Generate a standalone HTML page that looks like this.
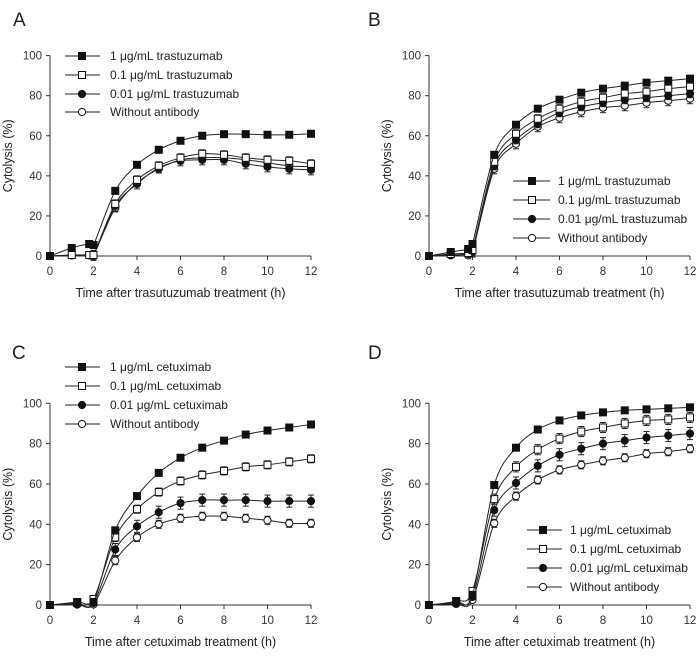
<!DOCTYPE html>
<html><head><meta charset="utf-8"><style>
body{margin:0;background:#fff;}
svg{display:block;font-family:"Liberation Sans",sans-serif;}
</style></head><body>
<svg id="fig" width="697" height="660" viewBox="0 0 697 660"></svg>
<script>
const timesAB=[0,1,1.8,2,3,4,5,6,7,8,9,10,11,12];
const timesCD=[0,1.25,2,3,4,5,6,7,8,9,10,11,12];
const xTicks=[0,2,4,6,8,10,12];
const yTicks=[0,20,40,60,80,100];
const labelsTras=["1 μg/mL trastuzumab","0.1 μg/mL trastuzumab","0.01 μg/mL trastuzumab","Without antibody"];
const labelsCet=["1 μg/mL cetuximab","0.1 μg/mL cetuximab","0.01 μg/mL cetuximab","Without antibody"];
const markerTypes=["sq-fill","sq-open","ci-fill","ci-open"];
const A1=[0,4,6,5.5,32.5,45.5,53,57.5,60,60.8,60.8,60.5,60.5,61];
const A2=[0,0.5,0.5,0.5,26,38,45,49,51,50.5,49,48,47.5,46];
const A3=[0,0.3,0.3,0.3,25,36,44,47.5,48,48,46,44.5,43.5,43];
const A4=[0,0.3,0.3,0.3,24,36.5,43.5,48,49,49,48,46.5,45,44.5];
const B1=[0,2,3.5,6,50.5,65.5,73.5,78,81.5,83.5,85,86.5,87.5,88.5];
const B2=[0,1,1.5,3,47,61,68.5,73.5,77,79,81,82,83.5,84.5];
const B3=[0,0.5,1,2.5,45,58,66,71.5,74.5,76.5,78,79,80,81];
const B4=[0,0.3,0.3,2,43.5,56,64.5,69,72,74,75,76.5,77.5,78.5];
const C1=[0,1,1.5,37,54,65.5,73,78,81.5,84.5,86.5,88,89.5];
const C2=[0,1.5,3,33.5,47.5,56,61.5,64.5,66.5,68.5,69.5,71,72.5];
const C3=[0,0.5,1,27.5,39,46,50.5,52,52,52,51.5,51.5,51.5];
const C4=[0,0.2,0.3,22,33.5,40,43,44,44,43,42,40.5,40.5];
const D1=[0,1.5,5,59.5,78,87,91.5,94,95.5,96.5,97,97.5,98];
const D2=[0,2,7,52.5,68.5,77,82.5,86,88,90,91.5,92,93];
const D3=[0,1,4,47,60.5,69,74.5,77.5,80,81.5,83,84,85];
const D4=[0,0.5,2.5,40.5,54,62,67,69.5,71.5,73,75,76,77.5];

const NS="http://www.w3.org/2000/svg";
const svg=document.getElementById('fig');
function mk(tag,attrs,parent){const e=document.createElementNS(NS,tag);for(const k in attrs)e.setAttribute(k,attrs[k]);(parent||svg).appendChild(e);return e;}

const panels=[
 {id:"A",x0:50,x1:311,y0:256,y1:55.6,times:timesAB,series:[A1,A2,A3,A4],errs:[1,2,2.5,2],labels:labelsTras,
  leg:{lx0:65,lx1:100,mx:82,tx:110,rows:[56,75,94,112]},title:"Time after trasutuzumab treatment (h)",lt:[13,8]},
 {id:"B",x0:429,x1:690,y0:256,y1:55.6,times:timesAB,series:[B1,B2,B3,B4],errs:[1,2,2,2.5],labels:labelsTras,
  leg:{lx0:513,lx1:550,mx:532,tx:558,rows:[181,200,219,238]},title:"Time after trasutuzumab treatment (h)",lt:[368,8]},
 {id:"C",x0:50,x1:311,y0:605,y1:403.3,times:timesCD,series:[C1,C2,C3,C4],errs:[1,2,3,2],labels:labelsCet,
  leg:{lx0:65,lx1:100,mx:82,tx:110,rows:[367,386,405,424]},title:"Time after cetuximab treatment (h)",lt:[12,341]},
 {id:"D",x0:429,x1:690,y0:605,y1:403.3,times:timesCD,series:[D1,D2,D3,D4],errs:[1,2.5,3,2],labels:labelsCet,
  leg:{lx0:527,lx1:562,mx:543,tx:570,rows:[530,549,568,587]},title:"Time after cetuximab treatment (h)",lt:[368,341]}
];

function spline(pts){
  let d="M"+pts[0][0]+","+pts[0][1];
  for(let i=0;i<pts.length-1;i++){
    const p0=pts[i-1]||pts[i],p1=pts[i],p2=pts[i+1],p3=pts[i+2]||pts[i+1];
    const t=0.16;
    const c1=[p1[0]+(p2[0]-p0[0])*t,p1[1]+(p2[1]-p0[1])*t];
    const c2=[p2[0]-(p3[0]-p1[0])*t,p2[1]-(p3[1]-p1[1])*t];
    d+=" C"+c1[0]+","+c1[1]+" "+c2[0]+","+c2[1]+" "+p2[0]+","+p2[1];
  }
  return d;
}
function marker(g,type,x,y){
  if(type.startsWith("sq")) return mk("rect",{x:x-3.5,y:y-3.5,width:7,height:7,fill:type==="sq-fill"?"#111":"#fff",stroke:"#111","stroke-width":1},g);
  return mk("circle",{cx:x,cy:y,r:3.6,fill:type==="ci-fill"?"#111":"#fff",stroke:"#111","stroke-width":1},g);
}

panels.forEach(p=>{
  const xs=v=>p.x0+(p.x1-p.x0)*v/12;
  const ys=v=>p.y0+(p.y1-p.y0)*v/100;
  const g=mk("g",{});
  
  
  const lt=mk("text",{x:p.lt[0],y:p.lt[1]+18,"font-size":19,fill:"#222"},g);lt.textContent=p.id;
  
  
  mk("line",{x1:p.x0,y1:p.y0,x2:p.x1,y2:p.y0,stroke:"#333","stroke-width":1},g);
  mk("line",{x1:p.x0,y1:p.y0,x2:p.x0,y2:p.y1,stroke:"#333","stroke-width":1},g);
  xTicks.forEach(t=>{
    mk("line",{x1:xs(t),y1:p.y0,x2:xs(t),y2:p.y0+4,stroke:"#333"},g);
    const tx=mk("text",{x:xs(t),y:p.y0+19,"text-anchor":"middle","font-size":11.5,fill:"#333"},g);tx.textContent=t;
    
    
  });
  yTicks.forEach(t=>{
    mk("line",{x1:p.x0-4,y1:ys(t),x2:p.x0,y2:ys(t),stroke:"#333"},g);
    const tx=mk("text",{x:p.x0-8,y:ys(t)+4,"text-anchor":"end","font-size":11.5,fill:"#333"},g);tx.textContent=t;
    
    
  });
  const xt=mk("text",{x:(p.x0+p.x1)/2,y:p.y0+41,"text-anchor":"middle","font-size":12.5,fill:"#222"},g);xt.textContent=p.title;
  
  
  const ymid=(p.y0+p.y1)/2, yx=p.x0-38;
  const yt=mk("text",{x:yx,y:ymid,"text-anchor":"middle","font-size":12.5,fill:"#222",transform:`rotate(-90 ${yx} ${ymid})`},g);yt.textContent="Cytolysis (%)";
  
  
  for(let s=3;s>=0;s--){
    const vals=p.series[s];
    const sg=mk("g",{},g);
    
    
    const pts=vals.map((v,i)=>[xs(p.times[i]),ys(v)]);
    mk("path",{d:spline(pts),fill:"none",stroke:"#222","stroke-width":1},sg);
    vals.forEach((v,i)=>{
      if(i>2){const e=p.errs[s];
        mk("line",{x1:xs(p.times[i]),y1:ys(v-e),x2:xs(p.times[i]),y2:ys(v+e),stroke:"#222"},sg);
        mk("line",{x1:xs(p.times[i])-3,y1:ys(v+e),x2:xs(p.times[i])+3,y2:ys(v+e),stroke:"#222"},sg);
        mk("line",{x1:xs(p.times[i])-3,y1:ys(v-e),x2:xs(p.times[i])+3,y2:ys(v-e),stroke:"#222"},sg);}
      const m=marker(sg,markerTypes[s],xs(p.times[i]),ys(v));
      
      
    });
  }
  p.labels.forEach((lab,i)=>{
    const y=p.leg.rows[i];
    const lg=mk("g",{},g);
    
    
    mk("line",{x1:p.leg.lx0,y1:y,x2:p.leg.lx1,y2:y,stroke:"#222"},lg);
    marker(lg,markerTypes[i],p.leg.mx,y);
    const t=mk("text",{x:p.leg.tx,y:y+4,"font-size":12,fill:"#222"},lg);t.textContent=lab;
  });
});
</script>
</body></html>
